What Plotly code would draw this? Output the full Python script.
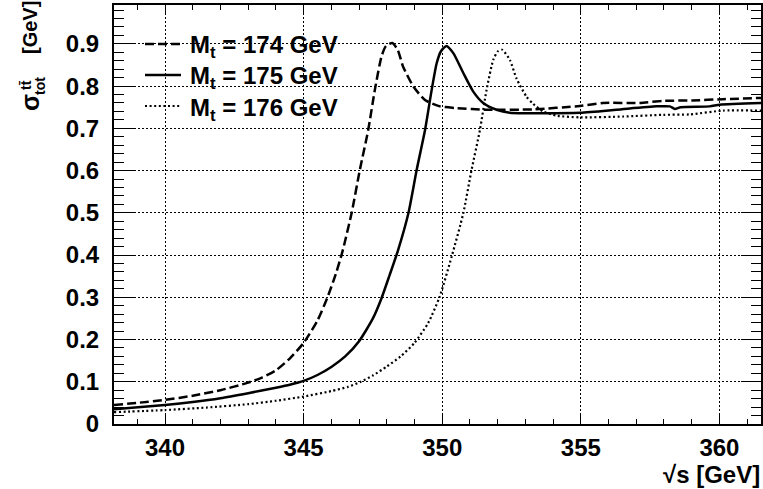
import plotly.graph_objects as go

# ---------------- data ----------------
x_174 = [338.16, 339.0, 340.0, 341.0, 342.0, 343.0, 343.5, 344.0, 344.5, 345.0,
         345.5, 345.85, 346.16, 346.4, 346.73, 347.03, 347.33, 347.57, 347.81, 347.97,
         348.2, 348.4, 348.59, 348.96, 349.38, 349.92, 350.5, 351.6, 353.28, 354.97,
         355.8, 357.13, 357.97, 359.0, 360.13, 361.5]
y_174 = [0.045, 0.050, 0.057, 0.067, 0.080, 0.098, 0.110, 0.127, 0.155, 0.192,
         0.245, 0.298, 0.355, 0.408, 0.499, 0.602, 0.696, 0.791, 0.870, 0.895,
         0.902, 0.885, 0.846, 0.799, 0.767, 0.752, 0.748, 0.744, 0.745, 0.753,
         0.760, 0.760, 0.765, 0.766, 0.769, 0.772]

x_175 = [338.16, 340.0, 341.0, 342.0, 343.0, 344.0, 344.5, 345.0, 345.5, 346.0,
         346.5, 347.0, 347.5, 347.8, 348.1, 348.4, 348.78, 349.08, 349.38, 349.62,
         349.8, 349.95, 350.15, 350.4, 350.76, 351.12, 351.48, 351.96, 352.44, 354.97,
         356.29, 357.73, 358.21, 358.39, 358.6, 359.65, 360.01, 361.5]
y_175 = [0.035, 0.045, 0.052, 0.061, 0.073, 0.086, 0.093, 0.102, 0.116, 0.135,
         0.160, 0.196, 0.250, 0.296, 0.352, 0.410, 0.499, 0.602, 0.696, 0.791,
         0.854, 0.882, 0.895, 0.878, 0.831, 0.787, 0.760, 0.744, 0.737, 0.737,
         0.744, 0.752, 0.752, 0.746, 0.750, 0.752, 0.756, 0.760]

x_176 = [338.16, 340.0, 341.5, 343.0, 344.0, 345.0, 346.0, 346.6, 347.06, 347.5,
         348.0, 348.5, 349.0, 349.5, 349.9, 350.34, 350.76, 351.06, 351.36, 351.6,
         351.84, 352.0, 352.16, 352.44, 352.68, 353.04, 353.28, 353.64, 354.13, 354.97,
         356.53, 357.97, 358.93, 360.13, 361.5]
y_176 = [0.028, 0.033, 0.039, 0.047, 0.055, 0.065, 0.078, 0.088, 0.100, 0.115,
         0.136, 0.160, 0.192, 0.240, 0.300, 0.396, 0.499, 0.602, 0.696, 0.791,
         0.862, 0.882, 0.886, 0.862, 0.818, 0.775, 0.758, 0.740, 0.730, 0.726,
         0.728, 0.732, 0.733, 0.742, 0.742]

x_ticks = [340, 345, 350, 355, 360]
x_tick_labels = ["340", "345", "350", "355", "360"]
y_ticks = [0, 0.1, 0.2, 0.3, 0.4, 0.5, 0.6, 0.7, 0.8, 0.9]
y_tick_labels = ["0", "0.1", "0.2", "0.3", "0.4", "0.5", "0.6", "0.7", "0.8", "0.9"]

legend_labels = ["M<sub>t</sub> = 174 GeV", "M<sub>t</sub> = 175 GeV", "M<sub>t</sub> = 176 GeV"]

# ---------------- styling ----------------
FONT = "Liberation Sans, Arial, Helvetica, sans-serif"
W, H = 763, 489
ML, MR, MT, MB = 114, 2, 5, 65
PW, PH = W - ML - MR, H - MT - MB


def px2paper(px, py):
    return (px - ML) / PW, (H - MB - py) / PH


dashes = ["9px,4px", "solid", "2px,2.6px"]
widths = [2.5, 2.5, 2.2]

fig = go.Figure()
for xs, ys, d, w in zip([x_174, x_175, x_176], [y_174, y_175, y_176], dashes, widths):
    fig.add_trace(go.Scatter(x=xs, y=ys, mode="lines",
                             line=dict(color="black", width=w, dash=d, shape="spline", smoothing=0.6),
                             showlegend=False, hoverinfo="skip"))

axis_common = dict(
    showline=True, linecolor="black", linewidth=2, mirror="allticks",
    ticks="inside", tickcolor="black", tickwidth=1,
    showgrid=True, gridcolor="black", gridwidth=1, griddash="1.5px,2.5px",
    zeroline=False, automargin=False,
    tickfont=dict(family=FONT, size=24, color="black", weight="bold"),
)

fig.update_xaxes(range=[338.16, 361.5], tickmode="array", tickvals=x_ticks, ticktext=x_tick_labels,
                 ticklen=9, ticklabelstandoff=1,
                 minor=dict(tickmode="linear", tick0=0, dtick=1, ticks="inside", ticklen=5,
                            tickcolor="black", tickwidth=1, showgrid=False),
                 **axis_common)
fig.update_yaxes(range=[0, 0.992], tickmode="array", tickvals=y_ticks, ticktext=y_tick_labels,
                 ticklen=20, ticklabelstandoff=8,
                 minor=dict(tickmode="linear", tick0=0, dtick=0.02, ticks="inside", ticklen=10,
                            tickcolor="black", tickwidth=1, showgrid=False),
                 **axis_common)

# legend drawn manually (ROOT-style, no box)
rows_py = [44, 75, 106]
shapes = []
annotations = []
for lab, py, d, w in zip(legend_labels, rows_py, dashes, widths):
    x0, y0 = px2paper(145, py)
    x1, _ = px2paper(181, py)
    shapes.append(dict(type="line", xref="paper", yref="paper", x0=x0, x1=x1, y0=y0, y1=y0,
                       line=dict(color="black", width=w, dash=d)))
    tx, ty = px2paper(188, py + 3)
    annotations.append(dict(xref="paper", yref="paper", x=tx, y=ty, xanchor="left", yanchor="middle",
                            text=lab, showarrow=False,
                            font=dict(family=FONT, size=24, color="black", weight="bold")))

# x-axis title
tx, ty = px2paper(762, 474)
annotations.append(dict(xref="paper", yref="paper", x=tx, y=ty, xanchor="right", yanchor="middle",
                        text="√s [GeV]", showarrow=False,
                        font=dict(family=FONT, size=24, color="black", weight="bold")))

# y-axis title pieces (rotated)
for text, px, py, size in [("[GeV]", 30, 28, 20), ("σ", 30, 103, 25), ("tt\u0304", 26, 85, 14),
                           ("tot", 40, 86, 14)]:
    ax_, ay_ = px2paper(px, py)
    annotations.append(dict(xref="paper", yref="paper", x=ax_, y=ay_, xanchor="center", yanchor="middle",
                            text=text, textangle=-90, showarrow=False,
                            font=dict(family=FONT, size=size, color="black", weight="bold")))

fig.update_layout(width=W, height=H, margin=dict(l=ML, r=MR, t=MT, b=MB, pad=0),
                  plot_bgcolor="white", paper_bgcolor="white", showlegend=False,
                  shapes=shapes, annotations=annotations)

fig.write_html("out.html", config={"displayModeBar": False},
               post_script="document.body.style.margin='0';document.body.style.overflow='hidden';")
